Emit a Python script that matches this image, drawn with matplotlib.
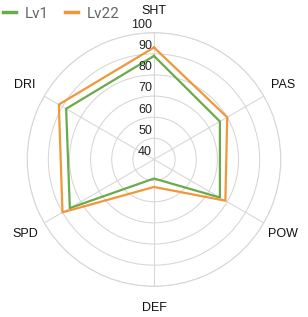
import numpy as np
import matplotlib.pyplot as plt

# radar data
labels = ['SHT', 'PAS', 'POW', 'DEF', 'SPD', 'DRI']
lv1 = [89, 76, 76, 49, 86, 88]
lv22 = [93, 80, 79, 53, 90, 92]
ticks = [40, 50, 60, 70, 80, 90, 100]

green = '#6aaa4a'
orange = '#f0973a'
grid_col = '#d6d6d6'

fig = plt.figure(figsize=(3.08, 3.17), dpi=100)
W, H = 308, 317
cx, cy, R = 154, 159.5, 126.8
ax = fig.add_axes([(cx - R) / W, (H - cy - R) / H, 2 * R / W, 2 * R / H], polar=True)
ax.set_theta_zero_location('N')
ax.set_theta_direction(-1)

theta = np.deg2rad(np.arange(len(labels)) * 60)
th = np.append(theta, theta[0])

l1, = ax.plot(th, lv1 + lv1[:1], color=green, lw=1.6, label='Lv1')
l2, = ax.plot(th, lv22 + lv22[:1], color=orange, lw=1.6, label='Lv22')

ax.set_ylim(ticks[0], ticks[-1])
ax.set_yticks(ticks[1:])
ax.set_yticklabels([])
ax.set_xticks(theta)
ax.set_xticklabels([])
ax.grid(True, color=grid_col, lw=0.75)
ax.spines['polar'].set_color(grid_col)
ax.spines['polar'].set_linewidth(0.75)
ax.set_facecolor('white')

for v in ticks:
    ax.annotate(str(v), xy=(0, v), xytext=(-1.5, 5.5), textcoords='offset points',
                ha='right', va='center', fontsize=9, color='#222222',
                family='Liberation Sans')

for t, lab in zip(theta, labels):
    ax.text(t, 110.4, lab, ha='center', va='center', fontsize=9,
            color='#111111', family='Liberation Sans')

fig.legend(handles=[l1, l2], loc='center left', bbox_to_anchor=(3 / W, 1 - 13.5 / H),
           frameon=False, handlelength=0.85, handletextpad=0.55, columnspacing=1.1,
           ncol=2, borderpad=0, borderaxespad=0,
           prop={'family': 'Roboto', 'size': 11}, labelcolor='#666666')
for h in fig.legends[0].legend_handles:
    h.set_linewidth(2.5)

fig.savefig('out.png', dpi=100)
